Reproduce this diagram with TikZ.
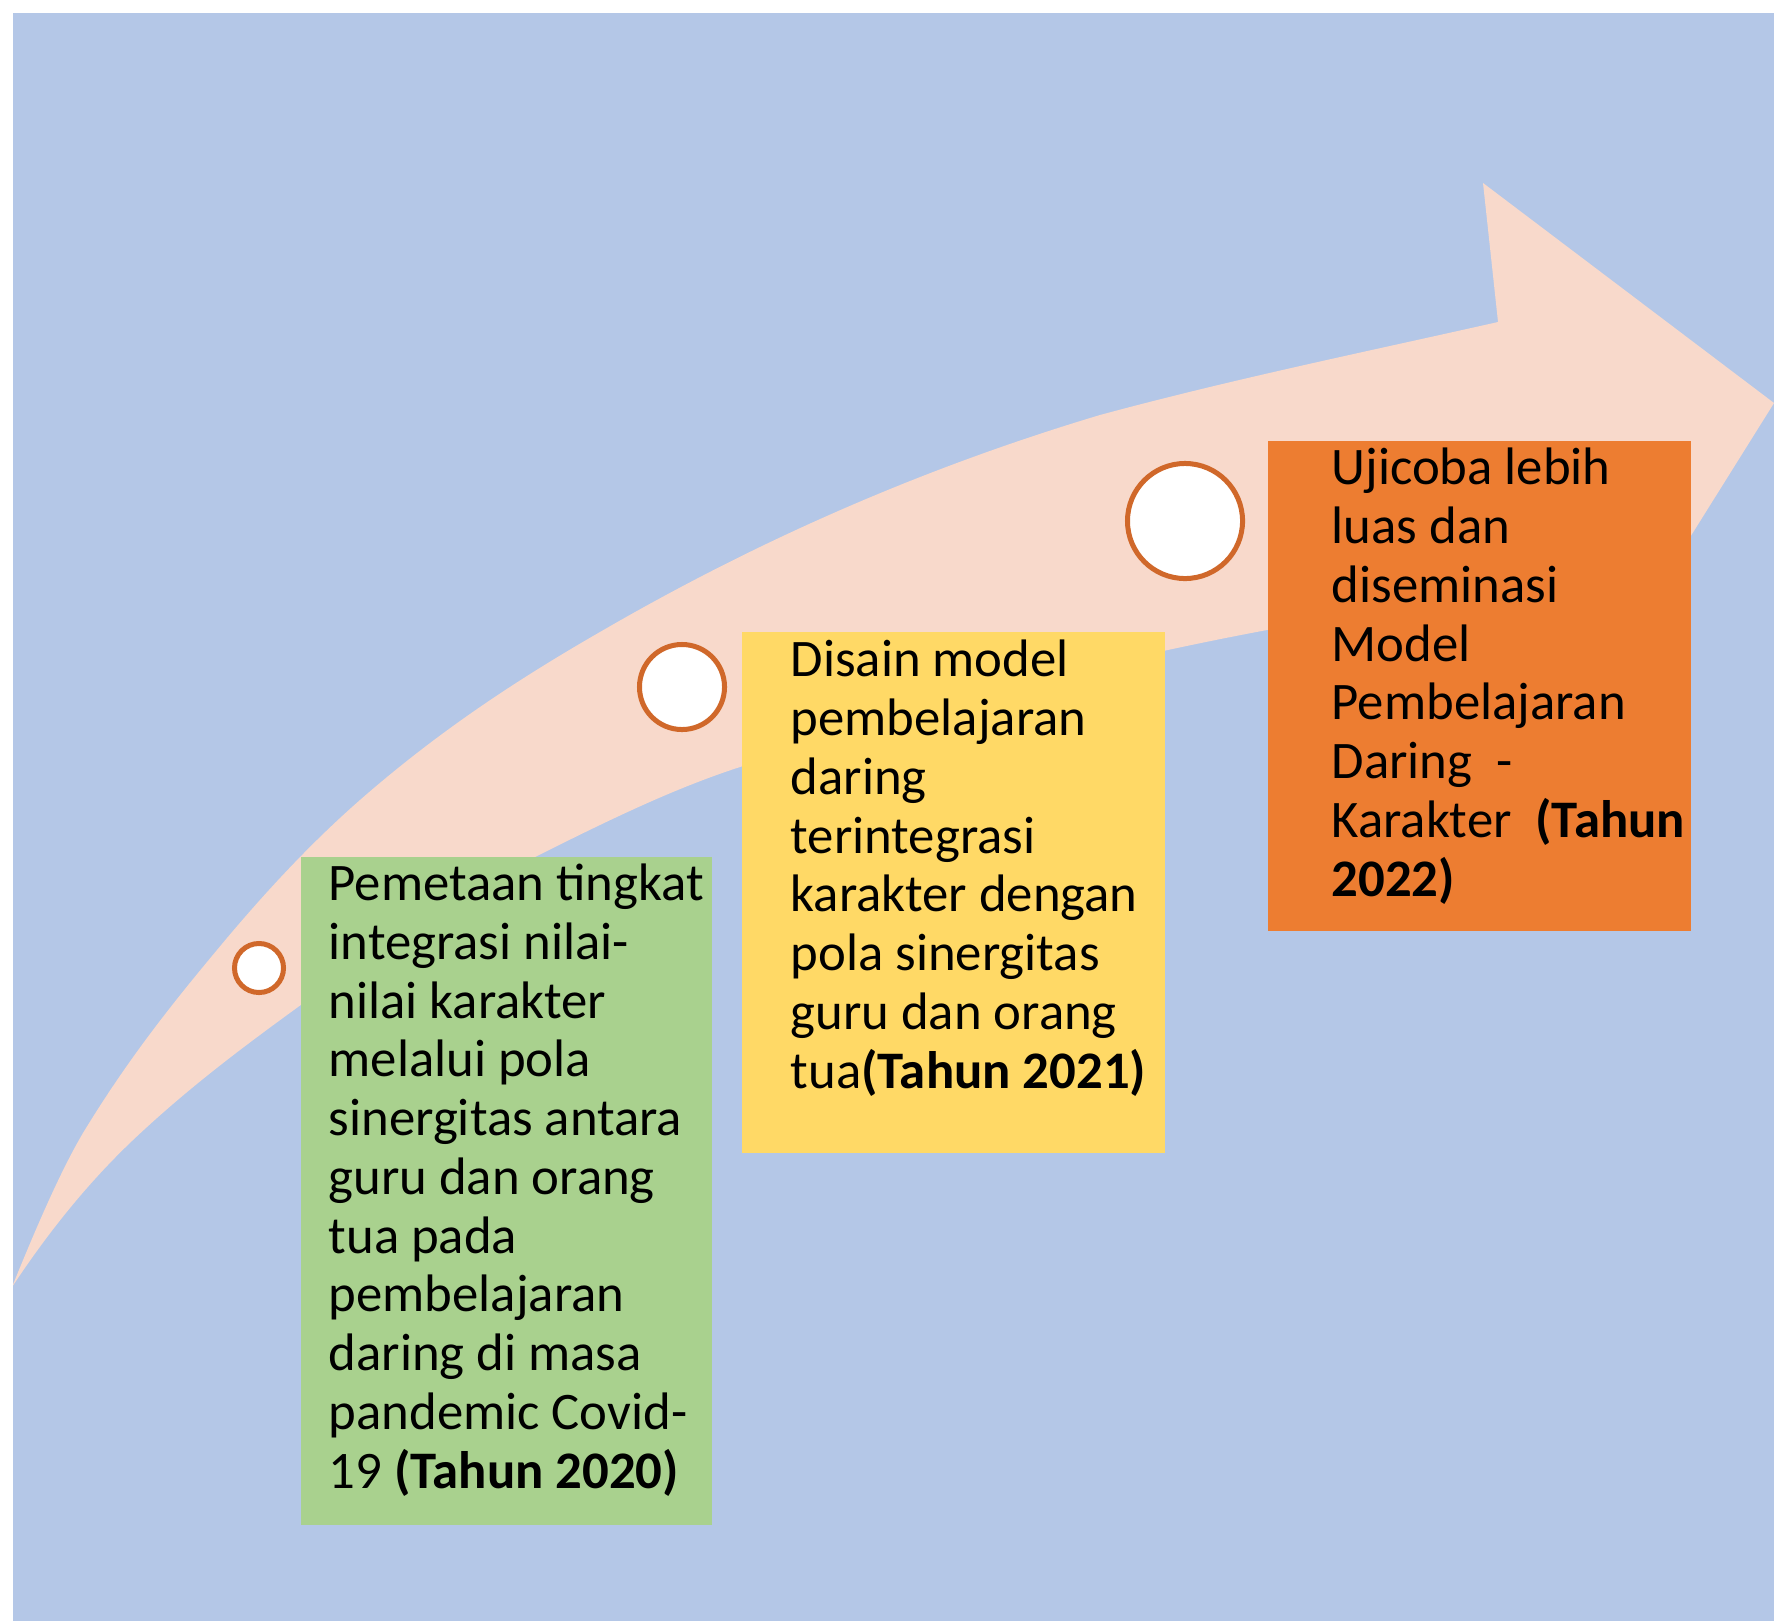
\documentclass[tikz,border=0pt]{standalone}
\usepackage{fontspec}
\setmainfont{Carlito}
\usetikzlibrary{calc}

\definecolor{bgblue}{HTML}{B4C7E7}
\definecolor{arrowpink}{HTML}{F8D9CB}
\definecolor{boxgreen}{HTML}{A9D18E}
\definecolor{boxyellow}{HTML}{FFD966}
\definecolor{boxorange}{HTML}{ED7D31}
\definecolor{ringorange}{HTML}{D0682A}

\begin{document}
\begin{tikzpicture}[x=0.01cm, y=-0.01cm,
    dot/.style={circle, draw=ringorange, line width=0.05cm, fill=white, inner sep=0pt},
    stagebox/.style={rectangle, inner sep=0pt, anchor=north west},
    stagetext/.style={anchor=base west, align=left, inner sep=0pt,
        font=\fontsize{15}{16.7}\selectfont}]

    %% Background
    \useasboundingbox (0,0) rectangle (1774,1621);
    \fill[bgblue] (13,13) rectangle (1774,1621);

    %% Curved arrow
    \begin{scope}
    \clip (13,13) rectangle (1774,1621);
    \fill[arrowpink] (12,1287)
        .. controls (36,1228) and (60,1172) .. (83,1133)
        .. controls (128,1059) and (172,1004) .. (217,950)
        .. controls (265,892) and (312,842) .. (360,800)
        .. controls (440,730) and (520,678) .. (600,632)
        .. controls (767,535) and (933,465) .. (1100,415)
        .. controls (1233,379) and (1365,352) .. (1498,322)
        -- (1483,183) -- (1774,403) -- (1585,705) -- (1515,585)
        .. controls (1432,600) and (1350,614) .. (1267,630)
        .. controls (1091,663) and (916,709) .. (740,767)
        .. controls (672,789) and (605,822) .. (537,856)
        .. controls (457,896) and (378,950) .. (298,1007)
        .. controls (243,1047) and (188,1088) .. (133,1140)
        .. controls (93,1178) and (53,1225) .. (12,1287) -- cycle;
    \end{scope}

    %% Rings on the arrow
    \node[dot, minimum size=0.49cm] (ring1) at (259,968) {};
    \node[dot, minimum size=0.85cm] (ring2) at (682,687) {};
    \node[dot, minimum size=1.15cm] (ring3) at (1185,521) {};

    %% Boxes
    \node[stagebox, fill=boxgreen, minimum width=4.11cm, minimum height=6.68cm] (box2020) at (300,856) {};
    \node[stagebox, fill=boxyellow, minimum width=4.23cm, minimum height=5.21cm] (box2021) at (741,631) {};
    \node[stagebox, fill=boxorange, minimum width=4.23cm, minimum height=4.90cm] (box2022) at (1267,440) {};

    %% Texts (placed at the baseline of their last line)
    \node[stagetext] (text2020) at (328,1488) {Pemetaan tingkat\\integrasi nilai-\\nilai karakter\\melalui pola\\sinergitas antara\\guru dan orang\\tua pada\\pembelajaran\\daring di masa\\pandemic Covid-\\19 \textbf{(Tahun 2020)}};
    \node[stagetext] (text2021) at (790,1088) {Disain model\\pembelajaran\\daring\\terintegrasi\\karakter dengan\\pola sinergitas\\guru dan orang\\tua\textbf{(Tahun 2021)}};
    \node[stagetext] (text2022) at (1331,896) {Ujicoba lebih\\luas dan\\diseminasi\\Model\\Pembelajaran\\Daring\ \ -\\Karakter\ \ \textbf{(Tahun}\\\textbf{2022)}};

\end{tikzpicture}
\end{document}
